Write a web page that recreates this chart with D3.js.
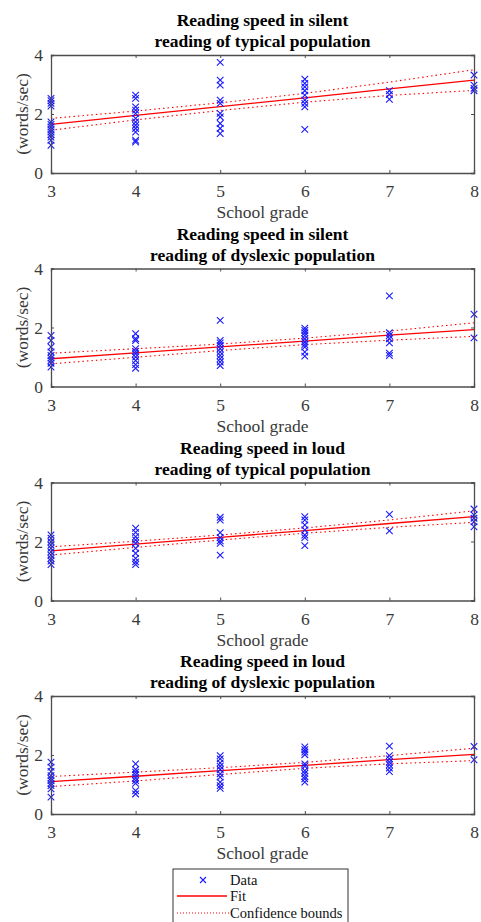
<!DOCTYPE html>
<html>
<head>
<meta charset="utf-8">
<script src="https://cdn.jsdelivr.net/npm/d3@7"></script>
<style>
  body { margin: 0; background: #fff; }
</style>
</head>
<body>
<script>
// grades on the x axis
const grades = [3, 4, 5, 6, 7, 8];
const xTicks = [3, 4, 5, 6, 7, 8];
const yTicks = [0, 2, 4];

const titles = [
  ["Reading speed in silent", "reading of typical population"],
  ["Reading speed in silent", "reading of dyslexic population"],
  ["Reading speed in loud", "reading of typical population"],
  ["Reading speed in loud", "reading of dyslexic population"]
];

// measured speeds per grade (words/sec), one list per grade 3..8
const silentTypical = [
  [2.53, 2.45, 2.36, 2.27, 1.73, 1.65, 1.56, 1.47, 1.39, 1.30, 1.22, 1.11, 0.94],
  [2.64, 2.53, 2.24, 2.13, 2.02, 1.85, 1.73, 1.62, 1.51, 1.39, 1.11, 1.05],
  [3.75, 3.15, 2.98, 2.47, 2.36, 2.02, 1.90, 1.68, 1.51, 1.34],
  [3.18, 3.04, 2.92, 2.79, 2.64, 2.47, 2.36, 2.24, 1.48],
  [2.79, 2.66, 2.50],
  [3.32, 2.98, 2.87, 2.79]
];
const silentDyslexic = [
  [1.73, 1.56, 1.34, 1.17, 1.05, 0.96, 0.88, 0.79, 0.66],
  [1.79, 1.62, 1.56, 1.28, 1.19, 1.11, 1.00, 0.88, 0.74, 0.62],
  [2.24, 1.56, 1.48, 1.39, 1.28, 1.17, 1.05, 0.94, 0.83, 0.71],
  [1.98, 1.90, 1.82, 1.73, 1.62, 1.51, 1.42, 1.34, 1.17, 1.03],
  [3.07, 1.82, 1.73, 1.62, 1.48, 1.13, 1.05],
  [2.45, 1.65]
];
const loudTypical = [
  [2.22, 2.11, 1.99, 1.88, 1.77, 1.65, 1.54, 1.43, 1.34, 1.22],
  [2.45, 2.31, 2.16, 2.05, 1.94, 1.77, 1.60, 1.43, 1.31, 1.22],
  [2.82, 2.73, 2.30, 2.13, 2.02, 1.94, 1.54],
  [2.84, 2.73, 2.56, 2.39, 2.22, 2.13, 1.86],
  [2.92, 2.36],
  [3.10, 2.90, 2.79, 2.67, 2.50]
];
const loudDyslexic = [
  [1.76, 1.59, 1.44, 1.30, 1.21, 1.13, 1.04, 0.96, 0.85, 0.57],
  [1.70, 1.51, 1.42, 1.33, 1.22, 1.13, 1.04, 0.79, 0.68],
  [1.98, 1.87, 1.73, 1.62, 1.51, 1.36, 1.25, 1.08, 0.96, 0.87],
  [2.27, 2.18, 2.10, 2.01, 1.70, 1.62, 1.47, 1.38, 1.27, 1.19, 1.08],
  [2.30, 1.98, 1.87, 1.76, 1.67, 1.56, 1.44],
  [2.29, 1.84]
];

// fitted line and confidence bounds at each grade
const fitValues = [
  [1.65, 1.95, 2.25, 2.55, 2.85, 3.15],
  [0.94, 1.14, 1.34, 1.54, 1.74, 1.93],
  [1.68, 1.91, 2.14, 2.37, 2.61, 2.84],
  [1.10, 1.28, 1.47, 1.65, 1.84, 2.02]
];
const upperBounds = [
  [1.85, 2.10, 2.38, 2.70, 3.08, 3.50],
  [1.13, 1.28, 1.44, 1.64, 1.88, 2.16],
  [1.82, 2.01, 2.22, 2.46, 2.73, 3.04],
  [1.27, 1.42, 1.57, 1.75, 1.98, 2.23]
];
const lowerBounds = [
  [1.45, 1.80, 2.12, 2.40, 2.63, 2.80],
  [0.77, 0.99, 1.22, 1.42, 1.57, 1.70],
  [1.54, 1.80, 2.05, 2.28, 2.48, 2.65],
  [0.93, 1.12, 1.34, 1.55, 1.70, 1.81]
];

const legendLabels = ["Data", "Fit", "Confidence bounds"];

const allData = [silentTypical, silentDyslexic, loudTypical, loudDyslexic];

const W = 481, H = 922;
const left = 51, right = 474, plotH = 118;
const panelTops = [55, 268.5, 482.5, 696];
const serif = "'Liberation Serif', 'DejaVu Serif', 'Times New Roman', serif";

const svg = d3.select("body").append("svg")
  .attr("width", W).attr("height", H);

const x = d3.scaleLinear().domain([3, 8]).range([left, right]);

const axisCol = "#4d4d4d", labelCol = "#3a3a3a";
const fs = 17.5;
const blue = "#1a1aff", red = "#ff0000";

allData.forEach((series, p) => {
  const top = panelTops[p];
  const y = d3.scaleLinear().domain([0, 4]).range([top + plotH, top]);
  const g = svg.append("g");

  // title
  titles[p].forEach((t, i) => {
    g.append("text")
      .attr("x", (left + right) / 2)
      .attr("y", top - 29 + i * 21)
      .attr("text-anchor", "middle")
      .style("font-family", serif)
      .style("font-size", fs + "px")
      .style("font-weight", "bold")
      .attr("fill", "#000")
      .text(t);
  });

  // fit + bounds
  const line = d3.line().x((d, i) => x(grades[i])).y(d => y(d));
  [upperBounds[p], lowerBounds[p]].forEach(b => {
    g.append("path").datum(b).attr("d", line)
      .attr("fill", "none").attr("stroke", red).attr("stroke-width", 1.1)
      .attr("stroke-dasharray", "1.5,3");
  });
  g.append("path").datum(fitValues[p]).attr("d", line)
    .attr("fill", "none").attr("stroke", red).attr("stroke-width", 1.3);

  // data markers
  const pts = [];
  series.forEach((vals, i) => vals.forEach(v => pts.push([grades[i], v])));
  g.selectAll(".pt").data(pts).enter().append("path")
    .attr("d", d => {
      const cx = x(d[0]), cy = y(d[1]), r = 3.3;
      return `M${cx - r},${cy - r}L${cx + r},${cy + r}M${cx - r},${cy + r}L${cx + r},${cy - r}`;
    })
    .attr("stroke", blue).attr("stroke-width", 1.1).attr("fill", "none");

  // axes, box style with inward ticks
  const bottom = g.append("g").attr("transform", `translate(0,${top + plotH})`)
    .call(d3.axisBottom(x).tickValues(xTicks).tickSize(-3).tickPadding(12).tickFormat(d3.format("d")));
  const topAx = g.append("g").attr("transform", `translate(0,${top})`)
    .call(d3.axisTop(x).tickValues(xTicks).tickSize(-3).tickFormat(""));
  const leftAx = g.append("g").attr("transform", `translate(${left},0)`)
    .call(d3.axisLeft(y).tickValues(yTicks).tickSize(-3).tickPadding(8).tickFormat(d3.format("d")));
  const rightAx = g.append("g").attr("transform", `translate(${right},0)`)
    .call(d3.axisRight(y).tickValues(yTicks).tickSize(-3).tickFormat(""));
  [bottom, topAx, leftAx, rightAx].forEach(a => {
    a.attr("font-family", null).attr("font-size", null);
    a.select(".domain").attr("stroke", axisCol).attr("stroke-width", 1.3);
    a.selectAll(".tick line").attr("stroke", axisCol);
    a.selectAll("text")
      .style("font-family", serif).style("font-size", fs + "px")
      .attr("fill", labelCol);
  });

  g.append("text")
    .attr("x", (left + right) / 2)
    .attr("y", top + plotH + 45)
    .attr("text-anchor", "middle")
    .style("font-family", serif)
    .style("font-size", fs + "px")
    .attr("fill", labelCol)
    .text("School grade");

  g.append("text")
    .attr("transform", `translate(28,${top + plotH / 2}) rotate(-90)`)
    .attr("text-anchor", "middle")
    .style("font-family", serif)
    .style("font-size", fs + "px")
    .attr("fill", labelCol)
    .text("(words/sec)");
});

// legend
const lg = svg.append("g");
lg.append("rect").attr("x", 173).attr("y", 869).attr("width", 175).attr("height", 60)
  .attr("fill", "#fff").attr("stroke", "#333").attr("stroke-width", 1);
const rows = [880, 896, 913];
lg.append("path")
  .attr("d", `M200,${rows[0] - 3}L206,${rows[0] + 3}M200,${rows[0] + 3}L206,${rows[0] - 3}`)
  .attr("stroke", blue).attr("stroke-width", 1.1);
lg.append("line").attr("x1", 177).attr("x2", 227).attr("y1", rows[1]).attr("y2", rows[1])
  .attr("stroke", red).attr("stroke-width", 1.3);
lg.append("line").attr("x1", 177).attr("x2", 229).attr("y1", rows[2]).attr("y2", rows[2])
  .attr("stroke", red).attr("stroke-width", 1).attr("stroke-dasharray", "1,2");
legendLabels.forEach((t, i) => {
  lg.append("text").attr("x", 230).attr("y", rows[i] + 5)
    .style("font-family", serif).style("font-size", "14.5px")
    .attr("fill", "#111").text(t);
});
</script>
</body>
</html>
